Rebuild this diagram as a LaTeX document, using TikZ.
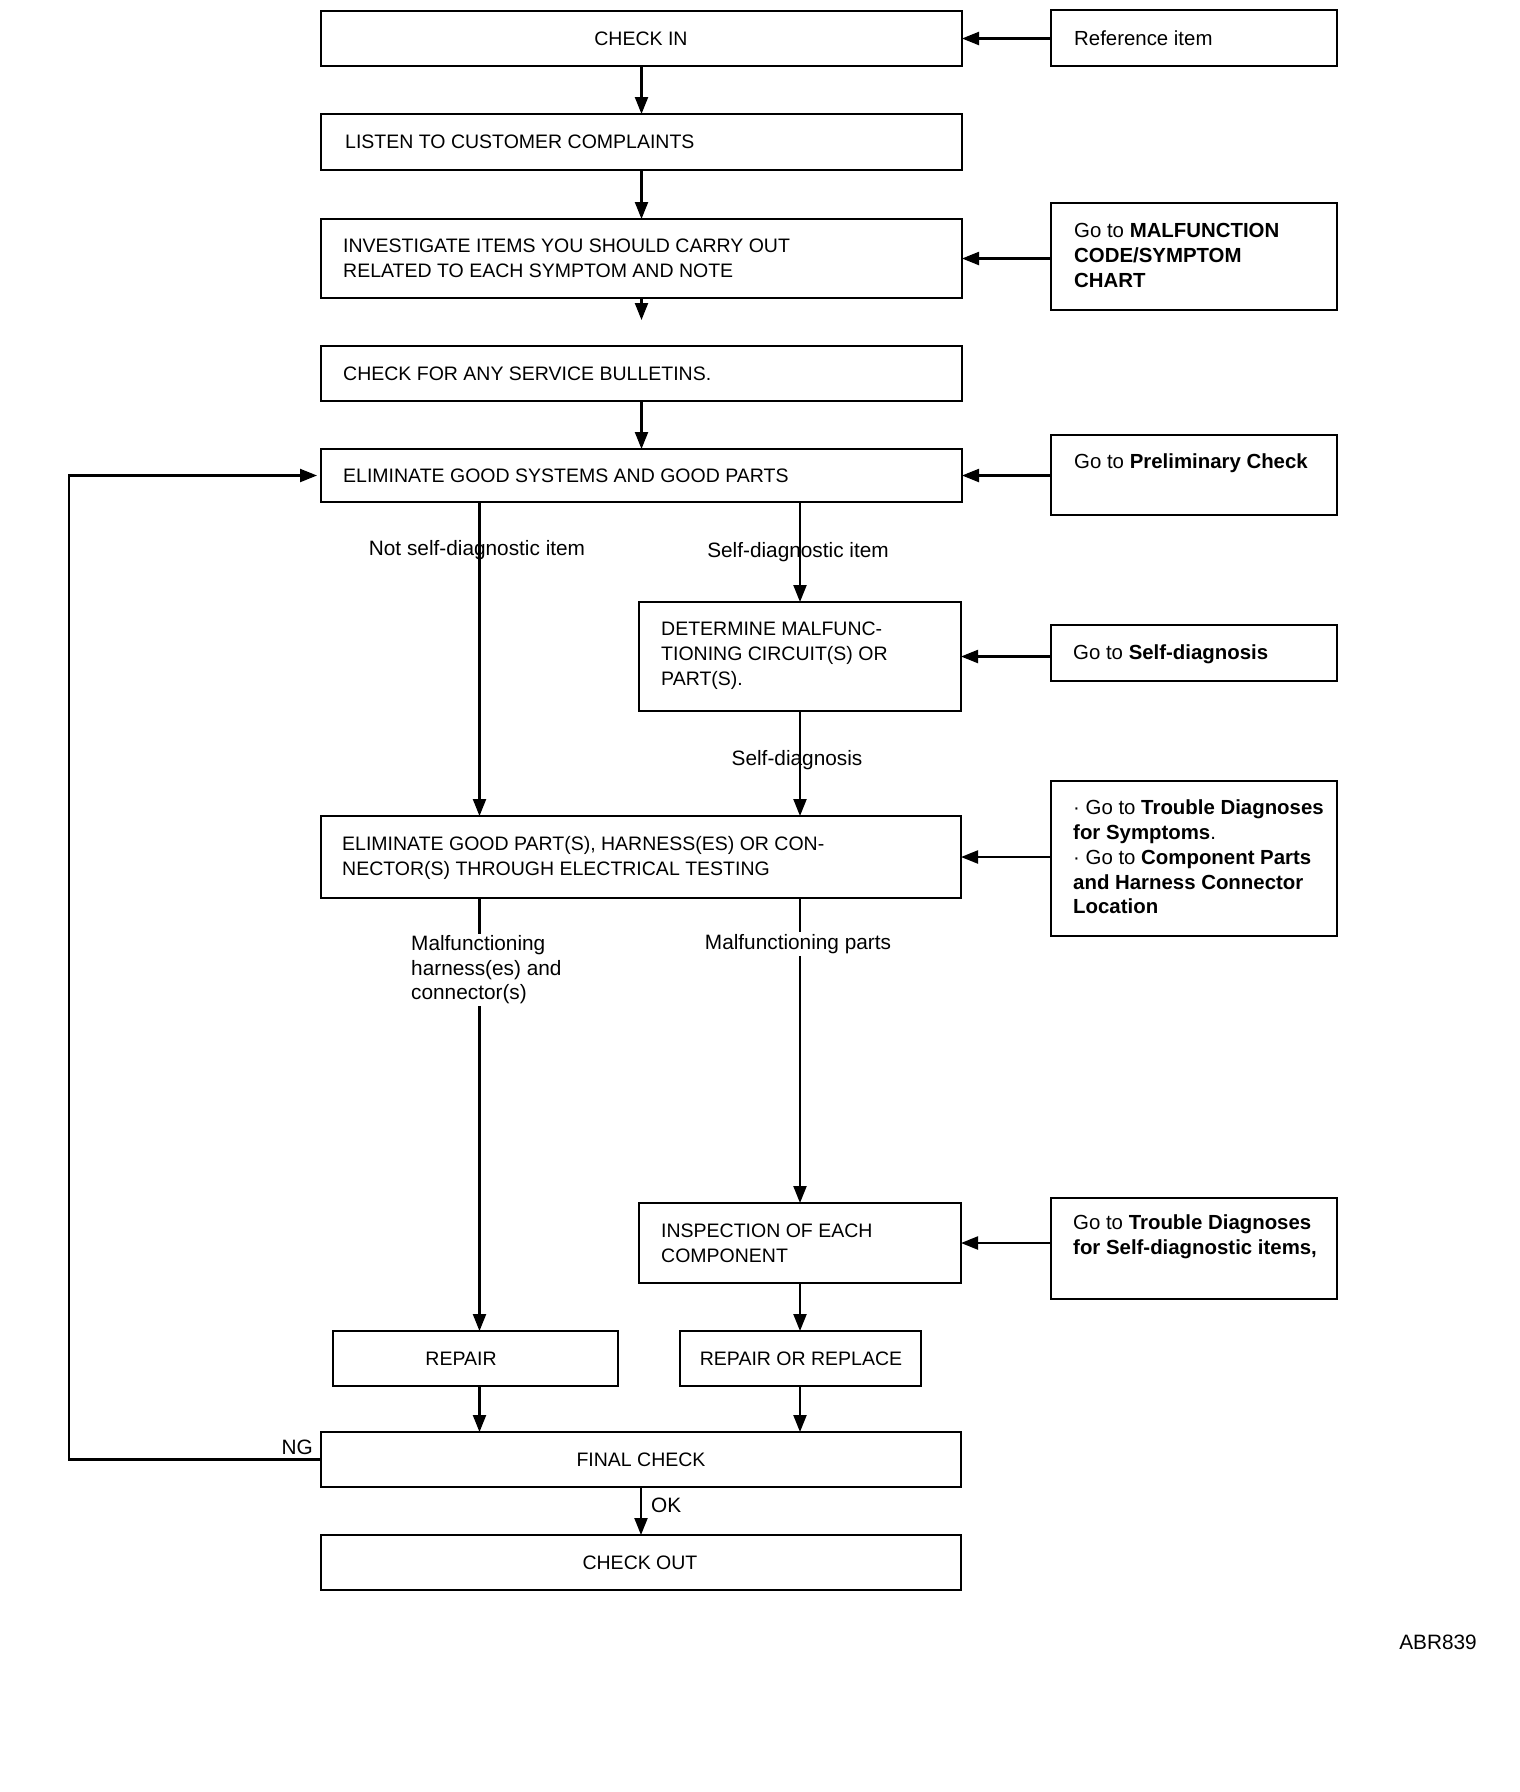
\documentclass[tikz,border=0pt]{standalone}
\usepackage{fontspec}
\setmainfont{Liberation Sans}
\usetikzlibrary{arrows.meta}
\begin{document}
\begin{tikzpicture}[x=1pt,y=-1pt,
  box/.style={draw, line width=2.6pt, inner sep=0pt, outer sep=0pt},
  btxt/.style={inner sep=0pt, align=left, font=\fontsize{19.5}{25}\selectfont},
  ntxt/.style={inner sep=0pt, align=left, font=\fontsize{20.4}{24.7}\selectfont},
  lbl/.style={inner sep=0pt, align=left, font=\fontsize{20.8}{24.5}\selectfont},
  arr/.style={line width=2.2pt, -{Triangle[length=17pt,width=13pt]}},
  ln/.style={line width=2.2pt}
]
\useasboundingbox[fill=white] (0,0) rectangle (1520,1792);

% ---------- main column ----------
\node[box, minimum width=641pt, minimum height=55pt] (checkin) at (641.5,38.5) {};
\node[btxt] (checkin-t) at (641,38.5) {CHECK IN};

\node[box, minimum width=641pt, minimum height=56pt] (listen) at (641.5,142) {};
\node[btxt, anchor=west] (listen-t) at (345,142) {LISTEN TO CUSTOMER COMPLAINTS};

\node[box, minimum width=641pt, minimum height=79pt] (invest) at (641.5,258.5) {};
\node[btxt, anchor=west] (invest-t) at (343,258.5) {INVESTIGATE ITEMS YOU SHOULD CARRY OUT\\RELATED TO EACH SYMPTOM AND NOTE};

\node[box, minimum width=641pt, minimum height=55pt] (bull) at (641.5,373.5) {};
\node[btxt, anchor=west] (bull-t) at (343,374) {CHECK FOR ANY SERVICE BULLETINS.};

\node[box, minimum width=641pt, minimum height=53pt] (elimsys) at (641.5,475.5) {};
\node[btxt, anchor=west] (elimsys-t) at (343,476) {ELIMINATE GOOD SYSTEMS AND GOOD PARTS};

\node[box, minimum width=322pt, minimum height=109pt] (determ) at (800,656.5) {};
\node[btxt, anchor=west] (determ-t) at (661,655.5) {DETERMINE MALFUNC-\\TIONING CIRCUIT(S) OR\\PART(S).};

\node[box, minimum width=640pt, minimum height=82pt] (elimparts) at (641,857) {};
\node[btxt, anchor=west] (elimparts-t) at (342,857.5) {ELIMINATE GOOD PART(S), HARNESS(ES) OR CON-\\NECTOR(S) THROUGH ELECTRICAL TESTING};

\node[box, minimum width=322pt, minimum height=80pt] (inspect) at (800,1243) {};
\node[btxt, anchor=west] (inspect-t) at (661,1243.5) {INSPECTION OF EACH\\COMPONENT};

\node[box, minimum width=285pt, minimum height=55pt] (repair) at (475.5,1358.5) {};
\node[btxt] (repair-t) at (461,1358.5) {REPAIR};

\node[box, minimum width=241pt, minimum height=55pt] (repl) at (800.5,1358.5) {};
\node[btxt] (repl-t) at (801,1358.5) {REPAIR OR REPLACE};

\node[box, minimum width=640pt, minimum height=55pt] (final) at (641,1459.5) {};
\node[btxt] (final-t) at (641,1459.5) {FINAL CHECK};

\node[box, minimum width=640pt, minimum height=55pt] (checkout) at (641,1562.5) {};
\node[btxt] (checkout-t) at (640,1562.5) {CHECK OUT};

% ---------- right column ----------
\node[box, minimum width=286pt, minimum height=56pt] (ref) at (1194,38) {};
\node[ntxt, anchor=west] (ref-t) at (1074,38) {Reference item};

\node[box, minimum width=286pt, minimum height=107pt] (malf) at (1194,256.5) {};
\node[ntxt, anchor=west] (malf-t) at (1074,255.5) {Go to \textbf{MALFUNCTION}\\\textbf{CODE/SYMPTOM}\\\textbf{CHART}};

\node[box, minimum width=286pt, minimum height=80pt] (prelim) at (1194,475) {};
\node[ntxt, anchor=west] (prelim-t) at (1074,463) {Go to \textbf{Preliminary Check}};

\node[box, minimum width=286pt, minimum height=56pt] (selfd) at (1194,653) {};
\node[ntxt, anchor=west] (selfd-t) at (1073,654) {Go to \textbf{Self-diagnosis}};

\node[box, minimum width=286pt, minimum height=155pt] (trouble) at (1194,858.5) {};
\node[ntxt, anchor=west] (trouble-t) at (1073,857) {·\ Go to \textbf{Trouble Diagnoses}\\\textbf{for Symptoms}.\\·\ Go to \textbf{Component Parts}\\\textbf{and Harness Connector}\\\textbf{Location}};

\node[box, minimum width=286pt, minimum height=101pt] (tsd) at (1194,1248.5) {};
\node[ntxt, anchor=west] (tsd-t) at (1073,1237) {Go to \textbf{Trouble Diagnoses}\\\textbf{for Self-diagnostic items,}};

% ---------- helper coordinates ----------
\coordinate (lx) at (479.5,0);
\coordinate (loopx) at (69,0);
\coordinate (investend) at (641.5,320);

% ---------- connectors (main) ----------
\draw[arr] (checkin.south) -- (listen.north);
\draw[arr] (listen.south) -- (invest.north);
\draw[arr] (invest.south) -- (investend);
\draw[arr] (bull.south) -- (elimsys.north);
\draw[arr] (elimsys.south -| determ.north) -- (determ.north);
\draw[arr] (elimsys.south -| lx) -- (elimparts.north -| lx);
\draw[arr] (determ.south) -- (determ.south |- elimparts.north);
\draw[arr] (elimparts.south -| inspect.north) -- (inspect.north);
\draw[arr] (elimparts.south -| lx) -- (repair.north -| lx);
\draw[arr] (inspect.south) -- (inspect.south |- repl.north);
\draw[arr] (repair.south -| lx) -- (final.north -| lx);
\draw[arr] (repl.south -| inspect.south) -- (final.north -| inspect.south);
\draw[arr] (final.south) -- (checkout.north);
\draw[arr] (final.west) -- (final.west -| loopx) -- (elimsys.west -| loopx) -- ([xshift=-4pt]elimsys.west);

% ---------- connectors (right notes) ----------
\draw[arr] (checkin.east -| ref.west) -- (checkin.east);
\draw[arr] (invest.east -| malf.west) -- (invest.east);
\draw[arr] (elimsys.east -| prelim.west) -- (elimsys.east);
\draw[arr] (determ.east -| selfd.west) -- (determ.east);
\draw[arr] (elimparts.east -| trouble.west) -- (elimparts.east);
\draw[arr] (inspect.east -| tsd.west) -- (inspect.east);

% ---------- labels ----------
\node[lbl] (l-notself) at (477,550) {Not self-diagnostic item};
\node[lbl] (l-self) at (798,552) {Self-diagnostic item};
\node[lbl] (l-selfdiag) at (797,760) {Self-diagnosis};
\node[lbl, anchor=west, fill=white, inner ysep=2pt] (l-harn) at (411,970) {Malfunctioning\\harness(es) and\\connector(s)};
\node[lbl, fill=white, inner ysep=2pt] (l-parts) at (798,944) {Malfunctioning parts};
\node[lbl, anchor=east] (l-ng) at (313,1447) {NG};
\node[lbl, anchor=west] (l-ok) at (651,1505) {OK};
\node[lbl, anchor=east] (l-abr) at (1477,1642) {ABR839};
\end{tikzpicture}
\end{document}
